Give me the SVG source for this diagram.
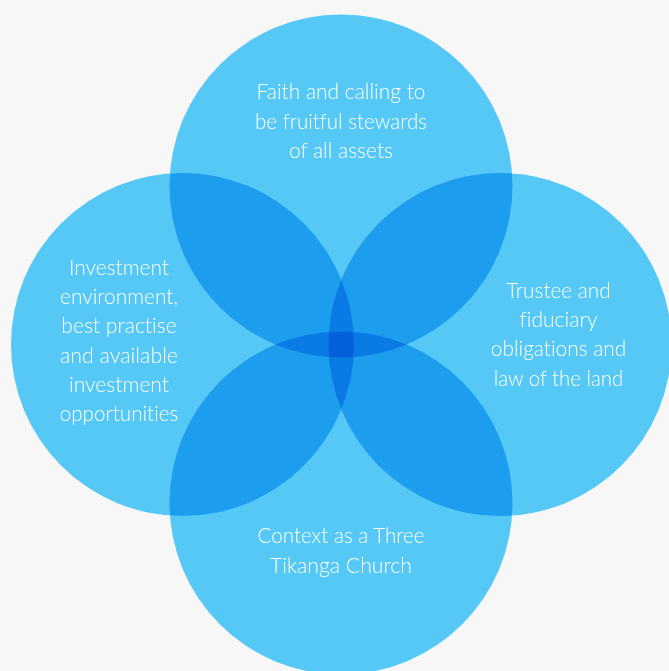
<svg xmlns="http://www.w3.org/2000/svg" width="669" height="671" viewBox="0 0 669 671">
  <style>
    .c { fill: #55C8F6; mix-blend-mode: multiply; }
    .t { fill: #FFFFFF; font-family: "Lato", "Liberation Sans", sans-serif; font-weight: 300; font-size: 22px; text-anchor: middle; font-variant-ligatures: none; }
  </style>
  <rect x="0" y="0" width="669" height="671" fill="#F7F7F7"/>
  <g id="circles" style="isolation:isolate">
    <g id="node-top">
      <circle class="c" cx="341" cy="186" r="171.5"/>
    </g>
    <g id="node-left">
      <circle class="c" cx="182.5" cy="344.5" r="171.5"/>
    </g>
    <g id="node-right">
      <circle class="c" cx="500" cy="344.5" r="171.5"/>
    </g>
    <g id="node-bottom">
      <circle class="c" cx="341" cy="503" r="171.5"/>
    </g>
  </g>
  <g id="labels">
    <g id="label-top">
      <text class="t" x="341" y="99" textLength="169" lengthAdjust="spacingAndGlyphs">Faith and calling to</text>
      <text class="t" x="341" y="128.5" textLength="172" lengthAdjust="spacingAndGlyphs">be fruitful stewards</text>
      <text class="t" x="341" y="157.5" textLength="104" lengthAdjust="spacingAndGlyphs">of all assets</text>
    </g>
    <g id="label-left">
      <text class="t" x="119" y="275" textLength="100" lengthAdjust="spacingAndGlyphs">Investment</text>
      <text class="t" x="119" y="304" textLength="118" lengthAdjust="spacingAndGlyphs">environment,</text>
      <text class="t" x="119" y="333.3" textLength="115.5" lengthAdjust="spacingAndGlyphs">best practise</text>
      <text class="t" x="119" y="362.7" textLength="118" lengthAdjust="spacingAndGlyphs">and available</text>
      <text class="t" x="119" y="391.7" textLength="100" lengthAdjust="spacingAndGlyphs">investment</text>
      <text class="t" x="119" y="421" textLength="118.5" lengthAdjust="spacingAndGlyphs">opportunities</text>
    </g>
    <g id="label-right">
      <text class="t" x="558.5" y="298.3" textLength="104.5" lengthAdjust="spacingAndGlyphs">Trustee and</text>
      <text class="t" x="558.5" y="327.3" textLength="78" lengthAdjust="spacingAndGlyphs">fiduciary</text>
      <text class="t" x="558.5" y="356" textLength="135.5" lengthAdjust="spacingAndGlyphs">obligations and</text>
      <text class="t" x="558.5" y="385.7" textLength="129.5" lengthAdjust="spacingAndGlyphs">law of the land</text>
    </g>
    <g id="label-bottom">
      <text class="t" x="341" y="542.7" textLength="167" lengthAdjust="spacingAndGlyphs">Context as a Three</text>
      <text class="t" x="341" y="572.7" textLength="142" lengthAdjust="spacingAndGlyphs">Tikanga Church</text>
    </g>
  </g>
</svg>
